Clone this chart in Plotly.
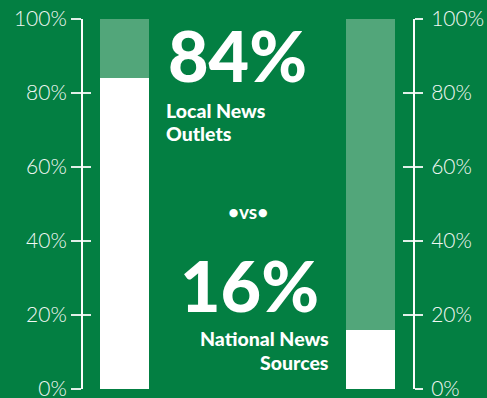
import plotly.graph_objects as go

# Share of trust: local outlets vs national sources
categories = ["Local News Outlets", "National News Sources"]
share = [84, 16]
remainder = [16, 84]
tick_vals = [0, 20, 40, 60, 80, 100]
tick_text = ["0%", "20%", "40%", "60%", "80%", "100%"]

BG = "#037f42"
LIGHT = "#52a67a"
LINE = "rgba(255,255,255,0.88)"

W, H = 487, 398
ML, MR, MT, MB = 83, 74, 19, 9
PW, PH = W - ML - MR, H - MT - MB


def px(x):
    return (x - ML) / PW


def py(y):
    return (H - MB - y) / PH


fig = go.Figure()
fig.add_trace(go.Bar(x=[0, 1], y=share, marker=dict(color="white", line=dict(width=0)),
                     width=0.2, hoverinfo="skip", name="share"))
fig.add_trace(go.Bar(x=[0, 1], y=remainder, marker=dict(color=LIGHT, line=dict(width=0)),
                     width=0.2, hoverinfo="skip", name="remainder"))

axis_common = dict(range=[0, 100], tickvals=tick_vals, showgrid=False, zeroline=False,
                   showline=True, linecolor=LINE, linewidth=2, tickcolor=LINE, tickwidth=2,
                   fixedrange=True, automargin=False)
label_font = dict(family="Lato", size=21, color="#f2f8f4", weight=300)

fig.update_layout(
    width=W, height=H, margin=dict(l=ML, r=MR, t=MT, b=MB, autoexpand=False),
    paper_bgcolor=BG, plot_bgcolor=BG, barmode="stack", showlegend=False,
    bargap=0,
    xaxis=dict(range=[-0.1687, 1.1728], visible=False, fixedrange=True, automargin=False),
    yaxis=dict(**axis_common, side="left", ticks="outside", ticklen=10,
               ticktext=tick_text, tickfont=label_font, ticklabelstandoff=0,
               ticklabeloverflow="allow"),
    yaxis2=dict(**axis_common, side="right", overlaying="y", ticks="outside", ticklen=8,
                ticktext=tick_text, tickfont=label_font, ticklabelstandoff=4,
                ticklabeloverflow="allow"),
    yaxis3=dict(**axis_common, side="left", overlaying="y", ticks="inside", ticklen=8,
                showticklabels=False),
    yaxis4=dict(**axis_common, side="right", overlaying="y", ticks="inside", ticklen=10,
                showticklabels=False),
)

# empty traces so the overlay axes get drawn
for ax in ["y2", "y3", "y4"]:
    fig.add_trace(go.Scatter(x=[None], y=[None], yaxis=ax, hoverinfo="skip", showlegend=False))

big = dict(family="Lato", size=70, color="white", weight=900)
sub = dict(family="Lato", size=19.5, color="white", weight=900)

annotations = [
    dict(text=f"{share[0]}%", x=px(166), y=py(55), xanchor="left", yanchor="middle", font=big),
    dict(text="Local News", x=px(164), y=py(110), xanchor="left", yanchor="middle", font=sub),
    dict(text="Outlets", x=px(164), y=py(133.5), xanchor="left", yanchor="middle", font=sub),
    dict(text="•vs•", x=px(248.5), y=py(211), xanchor="center", yanchor="middle",
         font=dict(family="Lato", size=19, color="white", weight=700)),
    dict(text=f"{share[1]}%", x=px(321), y=py(285), xanchor="right", yanchor="middle", font=big),
    dict(text="National News", x=px(331), y=py(338.5), xanchor="right", yanchor="middle", font=sub),
    dict(text="Sources", x=px(331), y=py(362), xanchor="right", yanchor="middle", font=sub),
]
for a in annotations:
    a.update(xref="paper", yref="paper", showarrow=False)
fig.update_layout(annotations=annotations)

fig.write_html("out.html", config={"displayModeBar": False})
